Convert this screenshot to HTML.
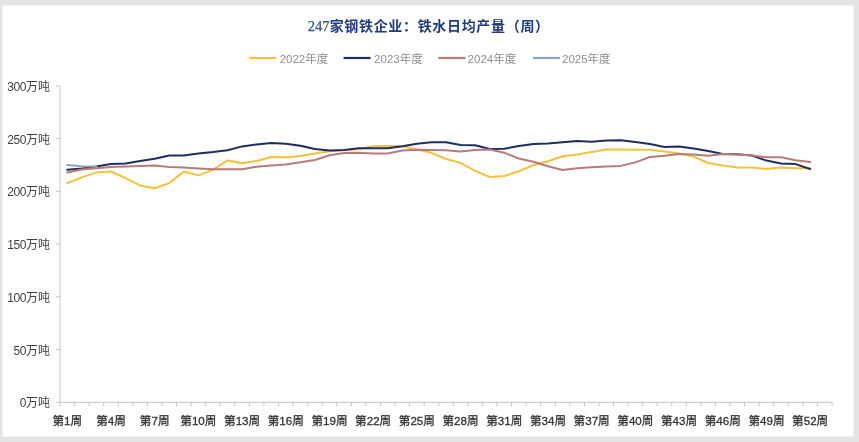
<!DOCTYPE html>
<html><head><meta charset="utf-8"><style>
html,body{margin:0;padding:0;background:#e4e4e4;}
body{width:859px;height:442px;overflow:hidden;position:relative;}
.card{position:absolute;left:2px;top:5px;width:852px;height:432px;background:#fff;box-shadow:inset 0 1px 0 #f1f1f1,inset -1px 0 0 #f2f2f2,inset 0 -1px 0 #f4f4f4,inset 1px 0 0 #f4f4f4;}
svg{position:absolute;left:0;top:0;will-change:transform;}
text{font-family:"Liberation Sans","Noto Sans CJK SC",sans-serif;}
.yl{font-size:12px;fill:#404040;}
.dg{letter-spacing:-0.45px;}
.xl{font-size:11.6px;fill:#333;stroke:#333;stroke-width:0.3px;}
.lg{font-size:11.5px;fill:#8e8e8e;}
.tt{font-size:14.67px;font-weight:bold;fill:#1f3c7c;font-family:"Liberation Sans","Noto Sans CJK SC",sans-serif;}
.tc{font-size:14px;letter-spacing:0.67px;}
.tn{font-family:"Liberation Serif",serif;font-weight:normal;fill:#34508a;stroke:#34508a;stroke-width:0.25px;}
</style></head><body>
<div class="card"></div>
<svg width="859" height="442" viewBox="0 0 859 442">
<line x1="60.0" y1="86" x2="60.0" y2="402.8" stroke="#c4c4c4" stroke-width="1"/>
<line x1="56.0" y1="402.3" x2="832.0" y2="402.3" stroke="#c4c4c4" stroke-width="1"/>
<line x1="56.0" y1="349.56" x2="60.0" y2="349.56" stroke="#c4c4c4" stroke-width="1"/>
<line x1="56.0" y1="296.83" x2="60.0" y2="296.83" stroke="#c4c4c4" stroke-width="1"/>
<line x1="56.0" y1="244.10" x2="60.0" y2="244.10" stroke="#c4c4c4" stroke-width="1"/>
<line x1="56.0" y1="191.36" x2="60.0" y2="191.36" stroke="#c4c4c4" stroke-width="1"/>
<line x1="56.0" y1="138.62" x2="60.0" y2="138.62" stroke="#c4c4c4" stroke-width="1"/>
<line x1="56.0" y1="85.89" x2="60.0" y2="85.89" stroke="#c4c4c4" stroke-width="1"/>
<line x1="60.00" y1="402.3" x2="60.00" y2="406.3" stroke="#c4c4c4" stroke-width="1"/>
<line x1="74.57" y1="402.3" x2="74.57" y2="406.3" stroke="#c4c4c4" stroke-width="1"/>
<line x1="89.13" y1="402.3" x2="89.13" y2="406.3" stroke="#c4c4c4" stroke-width="1"/>
<line x1="103.70" y1="402.3" x2="103.70" y2="406.3" stroke="#c4c4c4" stroke-width="1"/>
<line x1="118.26" y1="402.3" x2="118.26" y2="406.3" stroke="#c4c4c4" stroke-width="1"/>
<line x1="132.83" y1="402.3" x2="132.83" y2="406.3" stroke="#c4c4c4" stroke-width="1"/>
<line x1="147.40" y1="402.3" x2="147.40" y2="406.3" stroke="#c4c4c4" stroke-width="1"/>
<line x1="161.96" y1="402.3" x2="161.96" y2="406.3" stroke="#c4c4c4" stroke-width="1"/>
<line x1="176.53" y1="402.3" x2="176.53" y2="406.3" stroke="#c4c4c4" stroke-width="1"/>
<line x1="191.09" y1="402.3" x2="191.09" y2="406.3" stroke="#c4c4c4" stroke-width="1"/>
<line x1="205.66" y1="402.3" x2="205.66" y2="406.3" stroke="#c4c4c4" stroke-width="1"/>
<line x1="220.23" y1="402.3" x2="220.23" y2="406.3" stroke="#c4c4c4" stroke-width="1"/>
<line x1="234.79" y1="402.3" x2="234.79" y2="406.3" stroke="#c4c4c4" stroke-width="1"/>
<line x1="249.36" y1="402.3" x2="249.36" y2="406.3" stroke="#c4c4c4" stroke-width="1"/>
<line x1="263.92" y1="402.3" x2="263.92" y2="406.3" stroke="#c4c4c4" stroke-width="1"/>
<line x1="278.49" y1="402.3" x2="278.49" y2="406.3" stroke="#c4c4c4" stroke-width="1"/>
<line x1="293.06" y1="402.3" x2="293.06" y2="406.3" stroke="#c4c4c4" stroke-width="1"/>
<line x1="307.62" y1="402.3" x2="307.62" y2="406.3" stroke="#c4c4c4" stroke-width="1"/>
<line x1="322.19" y1="402.3" x2="322.19" y2="406.3" stroke="#c4c4c4" stroke-width="1"/>
<line x1="336.75" y1="402.3" x2="336.75" y2="406.3" stroke="#c4c4c4" stroke-width="1"/>
<line x1="351.32" y1="402.3" x2="351.32" y2="406.3" stroke="#c4c4c4" stroke-width="1"/>
<line x1="365.89" y1="402.3" x2="365.89" y2="406.3" stroke="#c4c4c4" stroke-width="1"/>
<line x1="380.45" y1="402.3" x2="380.45" y2="406.3" stroke="#c4c4c4" stroke-width="1"/>
<line x1="395.02" y1="402.3" x2="395.02" y2="406.3" stroke="#c4c4c4" stroke-width="1"/>
<line x1="409.58" y1="402.3" x2="409.58" y2="406.3" stroke="#c4c4c4" stroke-width="1"/>
<line x1="424.15" y1="402.3" x2="424.15" y2="406.3" stroke="#c4c4c4" stroke-width="1"/>
<line x1="438.72" y1="402.3" x2="438.72" y2="406.3" stroke="#c4c4c4" stroke-width="1"/>
<line x1="453.28" y1="402.3" x2="453.28" y2="406.3" stroke="#c4c4c4" stroke-width="1"/>
<line x1="467.85" y1="402.3" x2="467.85" y2="406.3" stroke="#c4c4c4" stroke-width="1"/>
<line x1="482.42" y1="402.3" x2="482.42" y2="406.3" stroke="#c4c4c4" stroke-width="1"/>
<line x1="496.98" y1="402.3" x2="496.98" y2="406.3" stroke="#c4c4c4" stroke-width="1"/>
<line x1="511.55" y1="402.3" x2="511.55" y2="406.3" stroke="#c4c4c4" stroke-width="1"/>
<line x1="526.11" y1="402.3" x2="526.11" y2="406.3" stroke="#c4c4c4" stroke-width="1"/>
<line x1="540.68" y1="402.3" x2="540.68" y2="406.3" stroke="#c4c4c4" stroke-width="1"/>
<line x1="555.25" y1="402.3" x2="555.25" y2="406.3" stroke="#c4c4c4" stroke-width="1"/>
<line x1="569.81" y1="402.3" x2="569.81" y2="406.3" stroke="#c4c4c4" stroke-width="1"/>
<line x1="584.38" y1="402.3" x2="584.38" y2="406.3" stroke="#c4c4c4" stroke-width="1"/>
<line x1="598.94" y1="402.3" x2="598.94" y2="406.3" stroke="#c4c4c4" stroke-width="1"/>
<line x1="613.51" y1="402.3" x2="613.51" y2="406.3" stroke="#c4c4c4" stroke-width="1"/>
<line x1="628.08" y1="402.3" x2="628.08" y2="406.3" stroke="#c4c4c4" stroke-width="1"/>
<line x1="642.64" y1="402.3" x2="642.64" y2="406.3" stroke="#c4c4c4" stroke-width="1"/>
<line x1="657.21" y1="402.3" x2="657.21" y2="406.3" stroke="#c4c4c4" stroke-width="1"/>
<line x1="671.77" y1="402.3" x2="671.77" y2="406.3" stroke="#c4c4c4" stroke-width="1"/>
<line x1="686.34" y1="402.3" x2="686.34" y2="406.3" stroke="#c4c4c4" stroke-width="1"/>
<line x1="700.91" y1="402.3" x2="700.91" y2="406.3" stroke="#c4c4c4" stroke-width="1"/>
<line x1="715.47" y1="402.3" x2="715.47" y2="406.3" stroke="#c4c4c4" stroke-width="1"/>
<line x1="730.04" y1="402.3" x2="730.04" y2="406.3" stroke="#c4c4c4" stroke-width="1"/>
<line x1="744.60" y1="402.3" x2="744.60" y2="406.3" stroke="#c4c4c4" stroke-width="1"/>
<line x1="759.17" y1="402.3" x2="759.17" y2="406.3" stroke="#c4c4c4" stroke-width="1"/>
<line x1="773.74" y1="402.3" x2="773.74" y2="406.3" stroke="#c4c4c4" stroke-width="1"/>
<line x1="788.30" y1="402.3" x2="788.30" y2="406.3" stroke="#c4c4c4" stroke-width="1"/>
<line x1="802.87" y1="402.3" x2="802.87" y2="406.3" stroke="#c4c4c4" stroke-width="1"/>
<line x1="817.43" y1="402.3" x2="817.43" y2="406.3" stroke="#c4c4c4" stroke-width="1"/>
<line x1="832.00" y1="402.3" x2="832.00" y2="406.3" stroke="#c4c4c4" stroke-width="1"/>
<text x="50" y="407.40" text-anchor="end" class="yl"><tspan class="dg">0</tspan>万吨</text>
<text x="50" y="354.67" text-anchor="end" class="yl"><tspan class="dg">50</tspan>万吨</text>
<text x="50" y="301.93" text-anchor="end" class="yl"><tspan class="dg">100</tspan>万吨</text>
<text x="50" y="249.20" text-anchor="end" class="yl"><tspan class="dg">150</tspan>万吨</text>
<text x="50" y="196.46" text-anchor="end" class="yl"><tspan class="dg">200</tspan>万吨</text>
<text x="50" y="143.72" text-anchor="end" class="yl"><tspan class="dg">250</tspan>万吨</text>
<text x="50" y="90.99" text-anchor="end" class="yl"><tspan class="dg">300</tspan>万吨</text>
<text x="67.28" y="425.3" text-anchor="middle" class="xl">第1周</text>
<text x="110.98" y="425.3" text-anchor="middle" class="xl">第4周</text>
<text x="154.68" y="425.3" text-anchor="middle" class="xl">第7周</text>
<text x="198.38" y="425.3" text-anchor="middle" class="xl">第10周</text>
<text x="242.08" y="425.3" text-anchor="middle" class="xl">第13周</text>
<text x="285.77" y="425.3" text-anchor="middle" class="xl">第16周</text>
<text x="329.47" y="425.3" text-anchor="middle" class="xl">第19周</text>
<text x="373.17" y="425.3" text-anchor="middle" class="xl">第22周</text>
<text x="416.87" y="425.3" text-anchor="middle" class="xl">第25周</text>
<text x="460.57" y="425.3" text-anchor="middle" class="xl">第28周</text>
<text x="504.26" y="425.3" text-anchor="middle" class="xl">第31周</text>
<text x="547.96" y="425.3" text-anchor="middle" class="xl">第34周</text>
<text x="591.66" y="425.3" text-anchor="middle" class="xl">第37周</text>
<text x="635.36" y="425.3" text-anchor="middle" class="xl">第40周</text>
<text x="679.06" y="425.3" text-anchor="middle" class="xl">第43周</text>
<text x="722.75" y="425.3" text-anchor="middle" class="xl">第46周</text>
<text x="766.45" y="425.3" text-anchor="middle" class="xl">第49周</text>
<text x="810.15" y="425.3" text-anchor="middle" class="xl">第52周</text>
<polyline points="67.28,183.10 81.85,177.40 96.42,172.40 110.98,171.50 125.55,178.10 140.11,185.40 154.68,188.20 169.25,183.10 183.81,171.50 198.38,175.40 212.94,169.90 227.51,160.40 242.08,163.20 256.64,161.00 271.21,157.00 285.77,157.20 300.34,155.90 314.91,153.40 329.47,151.20 344.04,150.20 358.60,149.20 373.17,146.20 387.74,146.10 402.30,146.20 416.87,149.40 431.43,152.80 446.00,159.00 460.57,162.90 475.13,170.90 489.70,177.00 504.26,176.00 518.83,171.30 533.40,165.00 547.96,161.30 562.53,156.30 577.09,154.50 591.66,152.00 606.23,149.60 620.79,149.40 635.36,149.70 649.92,149.70 664.49,151.60 679.06,153.50 693.62,156.70 708.19,163.00 722.75,165.50 737.32,167.60 751.89,167.60 766.45,169.00 781.02,167.60 795.58,168.30 810.15,168.30" fill="none" stroke="#f2c23c" stroke-width="2" stroke-linejoin="round" stroke-linecap="round"/>
<polyline points="67.28,169.80 81.85,168.40 96.42,166.60 110.98,164.10 125.55,163.50 140.11,161.10 154.68,158.70 169.25,155.50 183.81,155.50 198.38,153.40 212.94,152.10 227.51,150.20 242.08,146.40 256.64,144.50 271.21,142.90 285.77,143.70 300.34,145.80 314.91,149.00 329.47,150.40 344.04,149.90 358.60,148.20 373.17,148.20 387.74,148.20 402.30,146.30 416.87,143.70 431.43,142.30 446.00,142.30 460.57,145.00 475.13,145.20 489.70,149.00 504.26,148.70 518.83,146.10 533.40,144.10 547.96,143.60 562.53,142.30 577.09,141.10 591.66,141.70 606.23,140.50 620.79,140.20 635.36,142.10 649.92,144.00 664.49,147.00 679.06,146.50 693.62,148.40 708.19,150.90 722.75,154.10 737.32,154.30 751.89,155.50 766.45,160.60 781.02,163.40 795.58,164.10 810.15,169.00" fill="none" stroke="#1f2d60" stroke-width="2" stroke-linejoin="round" stroke-linecap="round"/>
<polyline points="67.28,172.40 81.85,169.60 96.42,168.30 110.98,167.00 125.55,166.60 140.11,166.00 154.68,165.60 169.25,167.00 183.81,167.60 198.38,168.60 212.94,169.30 227.51,169.30 242.08,169.30 256.64,166.70 271.21,165.60 285.77,164.60 300.34,162.30 314.91,160.00 329.47,155.30 344.04,153.00 358.60,152.80 373.17,153.60 387.74,153.60 402.30,150.60 416.87,149.70 431.43,149.90 446.00,150.30 460.57,151.60 475.13,150.00 489.70,149.60 504.26,152.80 518.83,158.50 533.40,161.80 547.96,166.20 562.53,170.00 577.09,168.30 591.66,167.20 606.23,166.60 620.79,165.90 635.36,162.40 649.92,157.00 664.49,155.80 679.06,154.10 693.62,154.50 708.19,155.80 722.75,154.10 737.32,154.40 751.89,155.50 766.45,157.20 781.02,157.20 795.58,160.20 810.15,162.00" fill="none" stroke="#b97a7a" stroke-width="2" stroke-linejoin="round" stroke-linecap="round"/>
<polyline points="67.28,165.10 81.85,166.20 96.42,166.60" fill="none" stroke="#95a3ba" stroke-width="2" stroke-linejoin="round" stroke-linecap="round"/>
<line x1="249.2" y1="58" x2="276.2" y2="58" stroke="#f2c23c" stroke-width="2.2"/>
<text x="279.7" y="63" class="lg">2022年度</text>
<line x1="343.6" y1="58" x2="370.6" y2="58" stroke="#1f2d60" stroke-width="2.2"/>
<text x="374.1" y="63" class="lg">2023年度</text>
<line x1="438.4" y1="58" x2="465.4" y2="58" stroke="#b97a7a" stroke-width="2.2"/>
<text x="467.6" y="63" class="lg">2024年度</text>
<line x1="532.9" y1="58" x2="559.9" y2="58" stroke="#95a3ba" stroke-width="2.2"/>
<text x="562.0" y="63" class="lg">2025年度</text>
<text x="307.7" y="30.8" class="tt"><tspan class="tn">247</tspan><tspan class="tc">家钢铁企业：铁水日均产量（周）</tspan></text>
</svg>
</body></html>
